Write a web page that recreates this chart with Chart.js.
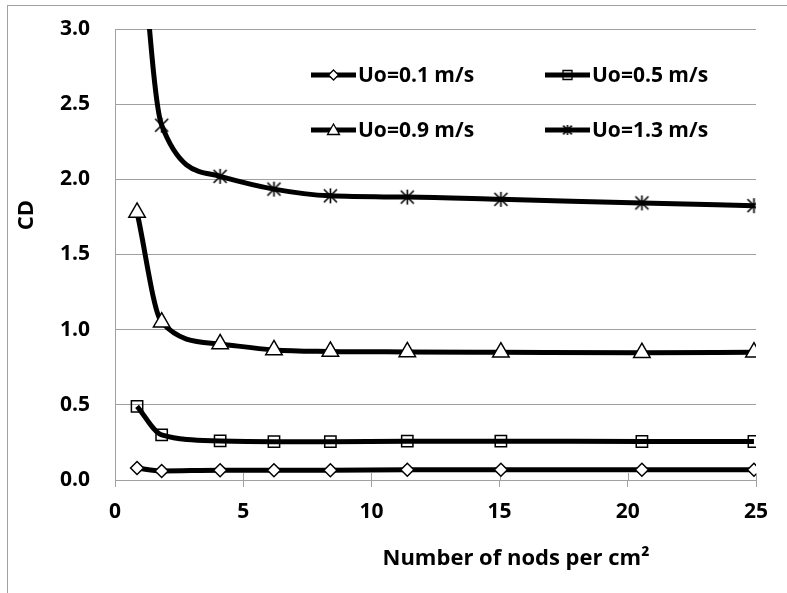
<!DOCTYPE html>
<html>
<head>
<meta charset="utf-8">
<script src="https://cdn.jsdelivr.net/npm/chart.js@4/dist/chart.umd.min.js"></script>
<style>
  html, body { margin: 0; padding: 0; background: #fff; }
  #wrap { width: 787px; height: 593px; }
</style>
</head>
<body>
<div id="wrap"><canvas id="cdChart" width="787" height="593"></canvas></div>
<script>
// nodes per cm2 (x) and CD for each inlet velocity
const nodes = [0.86, 1.82, 4.1, 6.2, 8.4, 11.4, 15.05, 20.55, 24.92];
const cdU01 = [0.08, 0.06, 0.065, 0.065, 0.065, 0.068, 0.068, 0.068, 0.068];
const cdU05 = [0.49, 0.30, 0.26, 0.255, 0.255, 0.258, 0.258, 0.256, 0.256];
const cdU09 = [1.78, 1.05, 0.905, 0.865, 0.855, 0.852, 0.85, 0.847, 0.85];
const cdU13 = [3.95, 2.36, 2.02, 1.935, 1.89, 1.882, 1.867, 1.843, 1.825];
const seriesLabels = ['Uo=0.1 m/s', 'Uo=0.5 m/s', 'Uo=0.9 m/s', 'Uo=1.3 m/s'];
const xTicks = [0, 5, 10, 15, 20, 25];
const yTicks = [0, 0.5, 1.0, 1.5, 2.0, 2.5, 3.0];

const FONT = '"Open Sans", "Liberation Sans", sans-serif';
const GRID = '#a0a0a0';

// asterisk marker (vertical bar + two diagonals)
function makeAsterisk(size) {
  const c = document.createElement('canvas');
  c.width = size; c.height = size;
  const g = c.getContext('2d');
  const m = size / 2, r = size / 2 - 1;
  g.strokeStyle = '#000';
  g.lineWidth = 1.6;
  g.beginPath();
  g.moveTo(m, m - r); g.lineTo(m, m + r);
  g.moveTo(m - r * 0.87, m - r * 0.87); g.lineTo(m + r * 0.87, m + r * 0.87);
  g.moveTo(m + r * 0.87, m - r * 0.87); g.lineTo(m - r * 0.87, m + r * 0.87);
  g.stroke();
  return c;
}
const asteriskBig = makeAsterisk(17);
const asteriskSmall = makeAsterisk(12);

function pts(ys) {
  return nodes.map((x, i) => ({ x: x, y: ys[i] }));
}

const styles = [
  { pointStyle: 'rectRot', pointRadius: 6.5, bg: '#fff' },
  { pointStyle: 'rect', pointRadius: 8, bg: 'rgba(255,255,255,0)' },
  { pointStyle: 'triangle', pointRadius: 9.5, bg: '#fff' },
  { pointStyle: asteriskBig, pointRadius: 8, bg: '#fff' }
];

const datasets = [cdU01, cdU05, cdU09, cdU13].map((ys, i) => ({
  label: seriesLabels[i],
  data: pts(ys),
  borderColor: '#000',
  borderWidth: 5,
  cubicInterpolationMode: 'monotone',
  pointStyle: styles[i].pointStyle,
  pointRadius: styles[i].pointRadius,
  pointBorderWidth: 1.5,
  pointBorderColor: '#000',
  pointBackgroundColor: styles[i].bg
}));

// legend inside the plot, two columns
function legendMarker(ctx, i, x, y) {
  ctx.save();
  ctx.strokeStyle = '#000';
  ctx.fillStyle = '#fff';
  ctx.lineWidth = 1.3;
  ctx.beginPath();
  if (i === 0) {
    ctx.moveTo(x, y - 5); ctx.lineTo(x + 5, y); ctx.lineTo(x, y + 5); ctx.lineTo(x - 5, y); ctx.closePath();
    ctx.fill(); ctx.stroke();
  } else if (i === 1) {
    ctx.rect(x - 4.5, y - 4.5, 9, 9);
    ctx.stroke();
  } else if (i === 2) {
    ctx.moveTo(x, y - 6); ctx.lineTo(x + 6, y + 4.5); ctx.lineTo(x - 6, y + 4.5); ctx.closePath();
    ctx.fill(); ctx.stroke();
  } else {
    ctx.drawImage(asteriskSmall, x - 6, y - 6);
  }
  ctx.restore();
}

const decorPlugin = {
  id: 'decor',
  beforeDraw(chart) {
    const ctx = chart.ctx;
    ctx.save();
    ctx.strokeStyle = GRID;
    ctx.lineWidth = 1;
    ctx.strokeRect(7.5, 5.5, 800, 600);
    ctx.restore();
  },
  beforeDatasetsDraw(chart) {
    // cross tick marks: the part above the x axis
    const ctx = chart.ctx, xs = chart.scales.x, bottom = chart.chartArea.bottom;
    ctx.save();
    ctx.strokeStyle = GRID;
    ctx.lineWidth = 1;
    xTicks.forEach(v => {
      const px = Math.round(xs.getPixelForValue(v)) + 0.5;
      ctx.beginPath();
      ctx.moveTo(px, bottom - 7); ctx.lineTo(px, bottom);
      ctx.stroke();
    });
    ctx.restore();
  },
  afterDraw(chart) {
    const ctx = chart.ctx;
    ctx.save();
    ctx.fillStyle = '#000';
    ctx.font = 'bold 22px ' + FONT;
    // axis titles
    ctx.textAlign = 'center';
    ctx.textBaseline = 'middle';
    ctx.fillText('Number of nods per cm\u00B2', 516, 559);
    ctx.save();
    ctx.translate(27, 215);
    ctx.rotate(-Math.PI / 2);
    ctx.fillText('CD', 0, 0);
    ctx.restore();
    // legend
    ctx.font = 'bold 21px ' + FONT;
    const colX = [311, 545];
    const rowY = [75, 130];
    chart.data.datasets.forEach((ds, i) => {
      const x0 = colX[i % 2], y0 = rowY[Math.floor(i / 2)];
      ctx.strokeStyle = '#000';
      ctx.lineWidth = 5;
      ctx.beginPath();
      ctx.moveTo(x0, y0); ctx.lineTo(x0 + 45, y0);
      ctx.stroke();
      legendMarker(ctx, i, x0 + 22.5, y0);
      ctx.fillStyle = '#000';
      ctx.textAlign = 'left';
      ctx.fillText(ds.label, x0 + 47, y0 + 1);
    });
    ctx.restore();
  }
};

new Chart(document.getElementById('cdChart'), {
  type: 'line',
  data: { datasets: datasets },
  plugins: [decorPlugin],
  options: {
    responsive: false,
    animation: false,
    devicePixelRatio: 1,
    layout: { padding: { top: 29, right: 31, left: 0, bottom: 0 } },
    plugins: { legend: { display: false }, tooltip: { enabled: false } },
    scales: {
      x: {
        type: 'linear',
        min: 0, max: 25,
        afterBuildTicks: (s) => { s.ticks = xTicks.map(v => ({ value: v })); },
        afterFit: (s) => { s.height = 113; s.paddingLeft = 0; s.paddingRight = 0; },
        border: { color: GRID, width: 1 },
        grid: { drawOnChartArea: false, drawTicks: true, tickLength: 7, color: GRID },
        ticks: { color: '#000', padding: 12, maxRotation: 0, font: { family: FONT, size: 21, weight: 'bold' } }
      },
      y: {
        min: 0, max: 3,
        afterBuildTicks: (s) => { s.ticks = yTicks.map(v => ({ value: v })); },
        afterFit: (s) => { s.width = 115; s.paddingTop = 0; s.paddingBottom = 0; },
        border: { color: GRID, width: 1 },
        grid: { drawTicks: false, color: GRID },
        ticks: {
          color: '#000', padding: 25,
          font: { family: FONT, size: 21, weight: 'bold' },
          callback: (v) => Number(v).toFixed(1)
        }
      }
    }
  }
});
</script>
</body>
</html>
